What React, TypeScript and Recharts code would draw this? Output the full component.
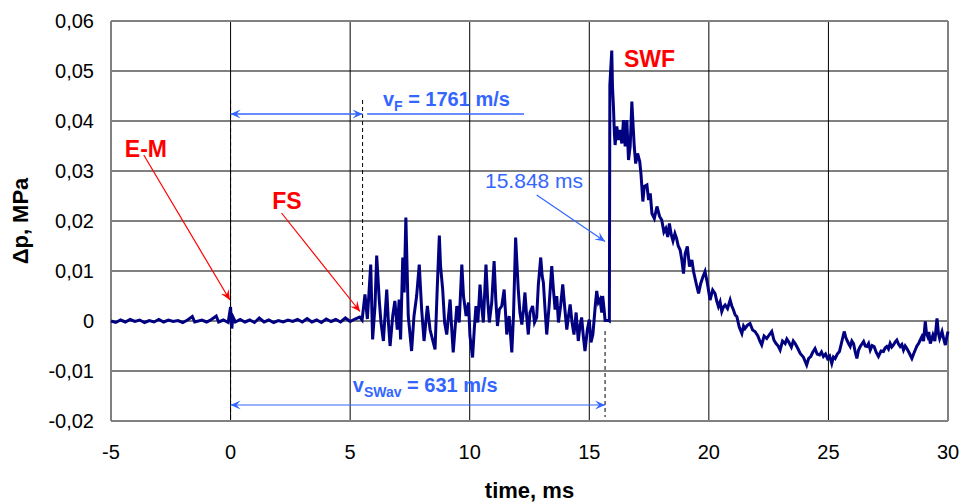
import React from 'react';
import { LineChart, Line, XAxis, YAxis, CartesianGrid, ReferenceLine, ReferenceDot } from 'recharts';

// time (ms), pressure (MPa) - pre-event baseline
const baseline: [number, number][] = [
  [-5.0, 0.0000], [-4.8, -0.0003], [-4.6, 0.0002], [-4.4, -0.0002], [-4.2, 0.0003], [-4.0, -0.0001],
  [-3.8, 0.0002], [-3.6, -0.0003], [-3.4, 0.0001], [-3.2, -0.0002], [-3.0, 0.0003], [-2.8, -0.0002],
  [-2.6, 0.0002], [-2.4, -0.0001], [-2.2, 0.0001], [-2.0, -0.0003], [-1.8, 0.0002], [-1.6, 0.0009],
  [-1.5, -0.0002], [-1.2, 0.0002], [-1.0, -0.0002], [-0.8, 0.0003], [-0.6, 0.0010], [-0.5, -0.0002],
  [-0.3, 0.0002], [-0.1, -0.0003], [0.0, 0.0028], [0.05, -0.0015], [0.1, 0.0008], [0.2, -0.0002],
  [0.4, 0.0003], [0.6, -0.0002], [0.8, 0.0002], [1.0, -0.0003], [1.2, 0.0006], [1.4, -0.0002],
  [1.6, 0.0002], [1.8, -0.0003], [2.0, 0.0001], [2.2, -0.0002], [2.4, 0.0002], [2.6, -0.0001],
  [2.8, 0.0003], [3.0, -0.0002], [3.2, 0.0005], [3.4, -0.0002], [3.6, 0.0002], [3.8, -0.0003],
  [4.0, 0.0004], [4.2, -0.0001], [4.4, 0.0003], [4.6, -0.0002], [4.8, 0.0006], [5.0, -0.0001],
  [5.2, 0.0004], [5.4, 0.0008], [5.5, 0.0002],
];

// flame-zone fluctuations
const flameZone: [number, number][] = [
  [5.62, 0.0053], [5.72, 0.0004], [5.86, 0.0113], [5.94, -0.0037], [6.04, 0.0030], [6.11, 0.0131],
  [6.22, 0.0040], [6.29, -0.0003], [6.39, -0.0040], [6.53, 0.0063], [6.60, -0.0003], [6.67, -0.0050],
  [6.78, 0.0010], [6.87, 0.0040], [6.97, -0.0017], [7.05, 0.0043], [7.11, -0.0037], [7.20, 0.0127],
  [7.26, 0.0057], [7.33, 0.0207], [7.43, 0.0010], [7.57, -0.0060], [7.67, 0.0010], [7.78, 0.0050],
  [7.89, 0.0113], [7.99, 0.0023], [8.09, -0.0040], [8.23, 0.0030], [8.34, -0.0017], [8.55, -0.0057],
  [8.64, 0.0063], [8.73, 0.0171], [8.78, 0.0110], [8.87, 0.0063], [8.95, -0.0003], [9.04, -0.0027],
  [9.18, 0.0043], [9.24, -0.0010], [9.31, -0.0063], [9.46, 0.0030], [9.56, -0.0003], [9.67, 0.0113],
  [9.74, 0.0050], [9.85, 0.0010], [9.95, 0.0037], [10.01, -0.0030], [10.12, -0.0073], [10.19, -0.0017],
  [10.26, 0.0030], [10.34, -0.0003], [10.43, 0.0073], [10.50, 0.0030], [10.57, -0.0003], [10.68, 0.0113],
  [10.75, 0.0043], [10.82, -0.0003], [10.92, 0.0037], [11.02, 0.0120], [11.09, 0.0043], [11.16, -0.0010],
  [11.24, 0.0023], [11.34, 0.0030], [11.44, 0.0063], [11.55, -0.0027], [11.65, 0.0010], [11.76, -0.0063],
  [11.83, 0.0010], [11.92, 0.0167], [11.98, 0.0110], [12.03, 0.0063], [12.10, 0.0017], [12.18, -0.0007],
  [12.25, 0.0023], [12.31, 0.0057], [12.38, 0.0010], [12.45, -0.0027], [12.52, 0.0017], [12.63, 0.0030],
  [12.71, -0.0003], [12.80, 0.0007], [12.87, 0.0073], [12.97, 0.0127], [13.03, 0.0090], [13.08, 0.0077],
  [13.15, 0.0023], [13.22, -0.0027], [13.32, 0.0030], [13.43, 0.0110], [13.50, 0.0063], [13.57, 0.0023],
  [13.64, 0.0050], [13.71, -0.0003], [13.80, 0.0030], [13.89, 0.0073], [13.98, 0.0023], [14.06, -0.0017],
  [14.13, 0.0010], [14.20, 0.0033], [14.28, -0.0003], [14.36, -0.0027], [14.45, 0.0017], [14.54, -0.0040],
  [14.61, -0.0010], [14.68, 0.0007], [14.75, -0.0030], [14.82, -0.0060], [14.92, -0.0017], [15.00, 0.0003],
  [15.07, -0.0043], [15.15, -0.0027], [15.25, 0.0030], [15.31, 0.0060], [15.38, 0.0037], [15.45, 0.0043],
  [15.52, 0.0017], [15.56, 0.0050], [15.62, 0.0023], [15.66, 0.0001], [15.80, 0.0001], [15.84, 0.0000],
];

// shock wave front and decay
const shockWave: [number, number][] = [
  [15.86, 0.0472], [15.94, 0.0541], [15.97, 0.0469], [16.01, 0.0429], [16.05, 0.0375], [16.08, 0.0352],
  [16.15, 0.0389], [16.22, 0.0362], [16.29, 0.0382], [16.36, 0.0355], [16.43, 0.0402], [16.50, 0.0349],
  [16.57, 0.0402], [16.64, 0.0322], [16.71, 0.0349], [16.78, 0.0439], [16.82, 0.0402], [16.88, 0.0349],
  [16.94, 0.0315], [17.02, 0.0335], [17.11, 0.0319], [17.16, 0.0295], [17.24, 0.0239], [17.30, 0.0269],
  [17.41, 0.0272], [17.48, 0.0242], [17.55, 0.0255], [17.62, 0.0215], [17.72, 0.0205], [17.83, 0.0229],
  [17.94, 0.0209], [18.03, 0.0202], [18.12, 0.0178], [18.20, 0.0185], [18.28, 0.0168], [18.35, 0.0195],
  [18.43, 0.0172], [18.50, 0.0160], [18.58, 0.0175], [18.65, 0.0165], [18.72, 0.0150],
  [18.80, 0.0142], [18.87, 0.0122], [18.94, 0.0095], [19.01, 0.0135], [19.10, 0.0149], [19.19, 0.0109],
  [19.29, 0.0122], [19.36, 0.0099], [19.47, 0.0075], [19.57, 0.0055], [19.66, 0.0075], [19.75, 0.0088],
  [19.84, 0.0099], [19.94, 0.0075], [20.05, 0.0042], [20.16, 0.0062], [20.26, 0.0055], [20.33, 0.0040],
  [20.40, 0.0029], [20.47, 0.0038], [20.54, 0.0019], [20.61, 0.0028], [20.68, 0.0032], [20.78, 0.0025],
  [20.89, 0.0042], [20.96, 0.0030], [21.03, 0.0022], [21.10, 0.0012], [21.17, 0.0009], [21.27, -0.0012],
  [21.38, -0.0025], [21.45, -0.0010], [21.51, -0.0015], [21.62, -0.0008], [21.72, -0.0005], [21.83, -0.0018],
  [21.93, -0.0021], [22.05, -0.0030], [22.13, -0.0040], [22.21, -0.0048], [22.31, -0.0030], [22.42, -0.0035],
  [22.52, -0.0028], [22.63, -0.0021], [22.72, -0.0038], [22.81, -0.0045], [22.90, -0.0050],
  [22.98, -0.0058], [23.08, -0.0040], [23.19, -0.0045], [23.26, -0.0036], [23.33, -0.0041], [23.45, -0.0052],
  [23.53, -0.0040], [23.61, -0.0045], [23.72, -0.0055], [23.82, -0.0065], [23.95, -0.0072], [24.09, -0.0088],
  [24.17, -0.0075], [24.26, -0.0071], [24.35, -0.0062], [24.44, -0.0055], [24.53, -0.0066], [24.63, -0.0068],
  [24.71, -0.0062], [24.79, -0.0071], [24.88, -0.0066], [24.96, -0.0075], [25.05, -0.0070], [25.14, -0.0085],
  [25.21, -0.0072], [25.28, -0.0075], [25.37, -0.0066], [25.46, -0.0061], [25.56, -0.0041], [25.66, -0.0021],
  [25.72, -0.0032], [25.77, -0.0038], [25.84, -0.0045], [25.91, -0.0051], [25.98, -0.0040], [26.05, -0.0045],
  [26.12, -0.0062], [26.19, -0.0075], [26.26, -0.0058], [26.33, -0.0051], [26.40, -0.0046], [26.47, -0.0041],
  [26.54, -0.0050], [26.61, -0.0051], [26.68, -0.0045], [26.75, -0.0058], [26.83, -0.0049], [26.91, -0.0051],
  [27.00, -0.0063], [27.09, -0.0071], [27.20, -0.0060], [27.30, -0.0061], [27.37, -0.0054], [27.44, -0.0051],
  [27.51, -0.0056], [27.58, -0.0045], [27.65, -0.0052], [27.72, -0.0048], [27.79, -0.0042], [27.86, -0.0038],
  [27.93, -0.0046], [28.00, -0.0051], [28.07, -0.0047], [28.14, -0.0058], [28.21, -0.0050], [28.28, -0.0055],
  [28.38, -0.0064], [28.49, -0.0075], [28.56, -0.0066], [28.63, -0.0058], [28.70, -0.0050], [28.77, -0.0045],
  [28.84, -0.0038], [28.91, -0.0031], [28.98, -0.0040], [29.05, -0.0001], [29.10, -0.0025], [29.15, -0.0031],
  [29.20, -0.0022], [29.26, -0.0045], [29.32, -0.0036], [29.37, -0.0028], [29.45, -0.0040], [29.54, 0.0005],
  [29.60, -0.0025], [29.65, -0.0035], [29.70, -0.0028], [29.75, -0.0021], [29.82, -0.0036], [29.89, -0.0048],
  [29.95, -0.0032], [30.0, -0.0021],
];

const xTicks = [-5, 0, 5, 10, 15, 20, 25, 30];
const yTicks = [-0.02, -0.01, 0, 0.01, 0.02, 0.03, 0.04, 0.05, 0.06];

const data = [...baseline, ...flameZone, ...shockWave].map(([t, v]) => ({ t, v }));

const FONT = 'Liberation Sans, Arial, sans-serif';
const BLUE = '#3366FF';
const RED = '#FF0000';
const NAVY = '#000080';

const fmtY = (v: number) => (Math.abs(v) < 1e-9 ? '0' : v.toFixed(2).replace('.', ','));

const makeArrow = (color: string, width: number, startHead: boolean, endHead: boolean, len = 10, half = 4.5) =>
  (p: any) => {
    const { x1, y1, x2, y2 } = p;
    const dx = x2 - x1;
    const dy = y2 - y1;
    const d = Math.sqrt(dx * dx + dy * dy) || 1;
    const ux = dx / d;
    const uy = dy / d;
    const head = (tx: number, ty: number, sx: number, sy: number) => {
      const bx = tx - sx * len;
      const by = ty - sy * len;
      const nx = -sy * half;
      const ny = sx * half;
      const mx = tx - sx * len * 0.6;
      const my = ty - sy * len * 0.6;
      return `${tx},${ty} ${bx + nx},${by + ny} ${mx},${my} ${bx - nx},${by - ny}`;
    };
    return (
      <g>
        <line x1={x1} y1={y1} x2={x2} y2={y2} stroke={color} strokeWidth={width} />
        {endHead && <polygon points={head(x2, y2, ux, uy)} fill={color} />}
        {startHead && <polygon points={head(x1, y1, -ux, -uy)} fill={color} />}
      </g>
    );
  };

const textShape = (content: React.ReactNode, color: string, size: number, weight: string) => (p: any) => (
  <text x={p.cx} y={p.cy} fill={color} fontSize={size} fontWeight={weight} fontFamily={FONT}>
    {content}
  </text>
);

export default function App() {
  return (
    <div style={{ position: 'absolute', left: 0, top: 0, width: 963, height: 503, background: '#fff' }}>
      <LineChart width={963} height={503} data={data} margin={{ top: 21, right: 15, bottom: 0, left: 0 }}>
        <CartesianGrid stroke="#000" strokeWidth={1} />
        <XAxis
          dataKey="t"
          type="number"
          domain={[-5, 30]}
          ticks={xTicks}
          height={82}
          tickLine={false}
          tickSize={22}
          tickMargin={2}
          axisLine={false}
          tick={{ fill: '#000', fontSize: 20, fontFamily: FONT }}
          label={{
            content: (props: any) => {
              const vb = props.viewBox;
              return (
                <text x={vb.x + vb.width / 2} y={498} textAnchor="middle" fontSize={22} fontWeight="bold" fontFamily={FONT} fill="#000">
                  time, ms
                </text>
              );
            },
          }}
        />
        <YAxis
          type="number"
          domain={[-0.02, 0.06]}
          ticks={yTicks}
          width={111}
          tickLine={false}
          tickSize={15}
          tickMargin={2}
          axisLine={false}
          tickFormatter={fmtY}
          tick={{ fill: '#000', fontSize: 20, fontFamily: FONT }}
          label={{
            content: (props: any) => {
              const vb = props.viewBox;
              const cy = vb.y + vb.height / 2;
              return (
                <text x={28} y={cy} transform={`rotate(-90 28 ${cy})`} textAnchor="middle" fontSize={22} fontWeight="bold" fontFamily={FONT} fill="#000">
                  Δp, MPa
                </text>
              );
            },
          }}
        />
        {/* plot border */}
        <ReferenceLine x={-5} stroke="#808080" strokeWidth={2} />
        <ReferenceLine x={30} stroke="#808080" strokeWidth={2} />
        <ReferenceLine y={0.06} stroke="#808080" strokeWidth={2} />
        <ReferenceLine y={-0.02} stroke="#808080" strokeWidth={2} />

        {/* dashed markers */}
        <ReferenceLine segment={[{ x: 0, y: 0.0442 }, { x: 0, y: -0.02 }]} stroke="#000" strokeDasharray="4 3" strokeWidth={1} />
        <ReferenceLine segment={[{ x: 5.52, y: 0.0442 }, { x: 5.52, y: 0.0072 }]} stroke="#000" strokeDasharray="4 3" strokeWidth={1} />
        <ReferenceLine segment={[{ x: 15.66, y: -0.002 }, { x: 15.66, y: -0.0192 }]} stroke="#000" strokeDasharray="4 3" strokeWidth={1} />

        <Line type="linear" dataKey="v" stroke={NAVY} strokeWidth={3} strokeLinejoin="miter" dot={false} isAnimationActive={false} />

        {/* blue arrows */}
        <ReferenceLine segment={[{ x: 0, y: 0.0414 }, { x: 5.52, y: 0.0414 }]} stroke={BLUE} shape={makeArrow(BLUE, 1.5, true, true)} />
        <ReferenceLine segment={[{ x: 5.71, y: 0.0414 }, { x: 12.27, y: 0.0414 }]} stroke={BLUE} shape={makeArrow(BLUE, 1.5, false, false)} />
        <ReferenceLine segment={[{ x: 0, y: -0.0168 }, { x: 15.66, y: -0.0168 }]} stroke={BLUE} shape={makeArrow(BLUE, 1.2, true, true)} />
        <ReferenceLine segment={[{ x: 12.8, y: 0.0252 }, { x: 15.66, y: 0.0159 }]} stroke={BLUE} shape={makeArrow(BLUE, 1.2, false, true)} />

        {/* red arrows */}
        <ReferenceLine segment={[{ x: -3.63, y: 0.0332 }, { x: -0.03, y: 0.0042 }]} stroke={RED} shape={makeArrow(RED, 1.2, false, true)} />
        <ReferenceLine segment={[{ x: 2.13, y: 0.0216 }, { x: 5.41, y: 0.0019 }]} stroke={RED} shape={makeArrow(RED, 1.2, false, true)} />

        {/* labels */}
        <ReferenceDot x={-4.42} y={0.0328} r={0} shape={textShape('E-M', RED, 23, 'bold')} />
        <ReferenceDot x={1.74} y={0.0224} r={0} shape={textShape('FS', RED, 23, 'bold')} />
        <ReferenceDot x={16.45} y={0.0508} r={0} shape={textShape('SWF', RED, 23, 'bold')} />
        <ReferenceDot x={10.64} y={0.0266} r={0} shape={textShape('15.848 ms', BLUE, 21, 'normal')} />
        <ReferenceDot
          x={6.37}
          y={0.043}
          r={0}
          shape={textShape(
            <>
              v<tspan dy={5} fontSize={14}>F</tspan>
              <tspan dy={-5}> = 1761 m/s</tspan>
            </>,
            BLUE,
            20,
            'bold'
          )}
        />
        <ReferenceDot
          x={5.11}
          y={-0.0142}
          r={0}
          shape={textShape(
            <>
              v<tspan dy={5} fontSize={14}>SWav</tspan>
              <tspan dy={-5}> = 631 m/s</tspan>
            </>,
            BLUE,
            20,
            'bold'
          )}
        />
      </LineChart>
    </div>
  );
}
